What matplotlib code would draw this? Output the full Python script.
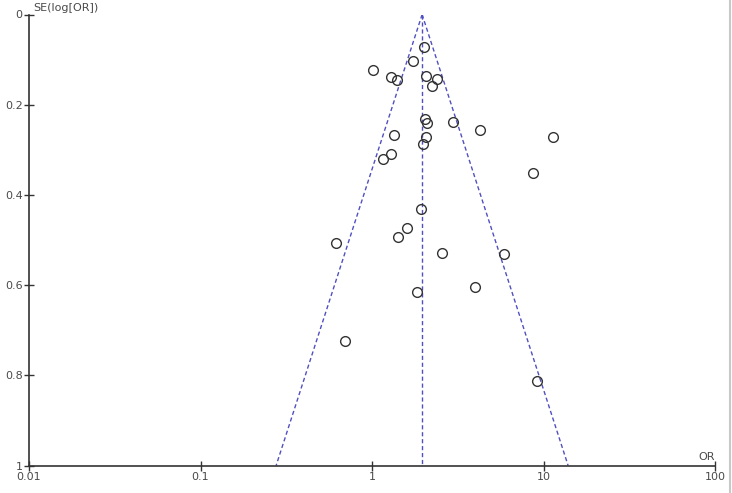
import numpy as np
import matplotlib

matplotlib.use("Agg")
from matplotlib import pyplot as plt
from matplotlib.lines import Line2D

# study odds ratios and their standard errors of log(OR)
odds_ratios = [
    2.00, 1.73, 1.02, 1.285, 1.39, 2.06, 2.39, 2.23, 2.04, 2.09,
    2.98, 4.28, 11.4, 1.34, 2.06, 1.97, 1.29, 1.16, 8.65, 1.94,
    1.59, 1.42, 0.619, 2.57, 5.91, 3.99, 1.84, 0.696, 9.13,
]
se_log_or = [
    0.073, 0.102, 0.124, 0.138, 0.145, 0.136, 0.142, 0.159, 0.232, 0.240,
    0.238, 0.256, 0.271, 0.267, 0.272, 0.288, 0.309, 0.321, 0.351, 0.432,
    0.473, 0.493, 0.507, 0.528, 0.532, 0.604, 0.616, 0.725, 0.813,
]
pooled_or = 1.96
x_ticks = [0.01, 0.1, 1, 10, 100]
x_tick_labels = ["0.01", "0.1", "1", "10", "100"]
y_ticks = [0, 0.2, 0.4, 0.6, 0.8, 1]
y_tick_labels = ["0", "0.2", "0.4", "0.6", "0.8", "1"]

axis_color = "#333333"
label_color = "#4a4a4a"
funnel_color = "#5050c0"

fig = plt.figure(figsize=(7.32, 4.93), dpi=100)
fig.patch.set_facecolor("white")
ax = fig.add_axes([29 / 732, 1 - 465.5 / 493, (715 - 29) / 732, (465.5 - 14.5) / 493])

ax.set_xscale("log")
ax.set_xlim(0.01, 100)
ax.set_ylim(1, 0)

# funnel: pooled estimate +/- 1.96 SE on the log scale
se_range = np.array([0.0, 1.0])
dash = (0, (3, 2))
ax.plot([pooled_or, pooled_or], [0, 1], color=funnel_color, lw=1.0,
        linestyle=dash, zorder=1)
ax.plot(pooled_or * np.exp(-1.96 * se_range), se_range, color=funnel_color,
        lw=1.0, linestyle=dash, zorder=1)
ax.plot(pooled_or * np.exp(1.96 * se_range), se_range, color=funnel_color,
        lw=1.0, linestyle=dash, zorder=1)

ax.plot(odds_ratios, se_log_or, linestyle="none", marker="o", markersize=7,
        markerfacecolor="none", markeredgecolor=axis_color, markeredgewidth=1.0,
        zorder=3)

for side in ("top", "right"):
    ax.spines[side].set_visible(False)
for side in ("left", "bottom"):
    ax.spines[side].set_color(axis_color)
    ax.spines[side].set_linewidth(1.2)

ax.set_xticks(x_ticks)
ax.set_xticklabels(x_tick_labels)
ax.set_yticks(y_ticks)
ax.set_yticklabels(y_tick_labels)
ax.minorticks_off()
ax.tick_params(axis="both", direction="inout", length=7, width=1.0,
               color=axis_color, labelcolor=label_color, labelsize=8, pad=1)

ax.text(0.006, 1.004, "SE(log[OR])", transform=ax.transAxes, ha="left",
        va="bottom", fontsize=8, color=label_color)
ax.text(1.0, 0.008, "OR", transform=ax.transAxes, ha="right", va="bottom",
        fontsize=8, color=label_color)

fig.add_artist(Line2D([730 / 732, 730 / 732], [0, 1], transform=fig.transFigure,
                      color="#c8c8c8", lw=1.5))

fig.savefig("out.png", dpi=100)
plt.close(fig)
